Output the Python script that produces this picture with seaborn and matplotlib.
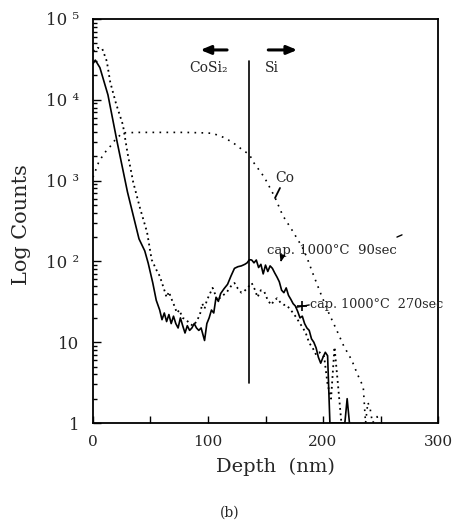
import numpy as np
import pandas as pd
import matplotlib
matplotlib.use("Agg")
import matplotlib.pyplot as plt
from matplotlib.ticker import FixedLocator, FixedFormatter, LogLocator, NullFormatter
import seaborn as sns

# Depth profiles (depth in nm, counts)
depth_90 = [0, 2, 6, 13, 21, 30, 40, 45, 48, 52, 55, 58, 60, 62, 64, 66, 68, 70, 72, 74,
            76, 78, 80, 82, 84, 86, 88, 90, 92, 94, 97, 99, 101, 103, 105, 107, 109, 111,
            114, 117, 120, 123, 126, 129, 132, 134, 136, 138, 140, 142, 144, 146, 148,
            150, 152, 154, 156, 158, 160, 162, 164, 166, 168, 170, 172, 174, 176, 178,
            180, 182, 184, 186, 188, 190, 192, 194, 196, 198, 200, 202, 204, 206, 219,
            221, 223]
counts_90 = [28000, 31000, 25000, 11500, 3000, 720, 190, 135, 95, 54, 33, 25, 19, 23, 18,
             22, 17, 21, 17, 15, 20, 16, 13, 16, 14, 15, 17, 15, 14, 15, 10.5, 17, 20, 25,
             23, 36, 32, 40, 46, 52, 66, 82, 86, 88, 92, 96, 105, 104, 96, 104, 84, 92, 70,
             90, 75, 88, 82, 72, 64, 56, 44, 41, 47, 38, 34, 30, 28, 24, 20, 21, 17, 15, 14,
             11, 10, 8.5, 6.5, 5.5, 6.5, 7.5, 6.8, 1, 1, 2.0, 1]

depth_270 = [0, 4, 8, 12, 15, 20, 26, 30, 35, 41, 47, 51, 54, 56, 58, 61, 64, 66, 68, 70,
             73, 75, 78, 81, 84, 87, 90, 93, 95, 97, 99, 101, 104, 106, 108, 111, 113, 116,
             119, 121, 123, 126, 129, 131, 133, 136, 138, 141, 143, 146, 149, 152, 155,
             157, 160, 163, 166, 168, 171, 174, 177, 180, 182, 185, 188, 191, 194, 197,
             201, 204, 207, 210, 213, 216]
counts_270 = [40000, 44000, 43000, 30000, 16500, 9000, 4900, 2200, 950, 450, 230, 105, 85,
              74, 66, 49, 36, 42, 35, 30, 23, 25, 20, 19, 17, 16, 18, 22, 30, 26, 33, 38,
              47, 40, 33, 36, 38, 41, 47, 52, 54, 46, 41, 42, 45, 50, 54, 44, 36, 44, 42,
              33, 29, 32, 35, 31, 29, 29, 26, 23, 20, 17, 15.5, 13, 9.8, 8.5, 7, 7.5, 6.6,
              3.0, 2.0, 8.7, 3.0, 1.0]

depth_co = [0, 5, 10, 15, 20, 26, 40, 60, 80, 95, 104, 113, 121, 130, 136, 140, 149, 158,
            165, 173, 182, 186, 191, 198, 205, 212, 218, 225, 230, 235, 237, 239, 241, 243,
            247, 249]
counts_co = [1100, 1700, 2200, 2650, 3300, 3900, 3950, 3950, 3950, 3900, 3850, 3450, 3000,
             2400, 2100, 1650, 1100, 630, 370, 245, 150, 112, 72, 40, 23, 14, 9, 6.0, 4.0,
             2.8, 1.0, 1.8, 1.5, 1.0, 1.2, 1.0]

interface_depth = 136
x_ticks = [0, 100, 200, 300]
x_minor = [50, 150, 250]
y_ticks = [1, 10, 100, 1000, 10000, 100000]
y_labels = ["1", "10", "10 \u00b2", "10 \u00b3", "10 \u2074", "10 \u2075"]

sns.set_style("ticks")
plt.rcParams["font.family"] = ["DejaVu Serif", "DejaVu Sans"]

fig = plt.figure(figsize=(4.56, 5.27), dpi=100)
ax = fig.add_axes([93 / 456, 1 - 423 / 527, 345 / 456, 404 / 527])

df90 = pd.DataFrame({"depth": depth_90, "counts": counts_90})
df270 = pd.DataFrame({"depth": depth_270, "counts": counts_270})
dfco = pd.DataFrame({"depth": depth_co, "counts": counts_co})

sns.lineplot(data=df90, x="depth", y="counts", ax=ax, color="black", lw=1.2,
             estimator=None, sort=False)
l270 = sns.lineplot(data=df270, x="depth", y="counts", ax=ax, color="black", lw=1.3,
                    estimator=None, sort=False).lines[-1]
l270.set_dashes((1, 2.0))
lco = sns.lineplot(data=dfco, x="depth", y="counts", ax=ax, color="black", lw=1.2,
                   estimator=None, sort=False).lines[-1]
lco.set_dashes((1, 3.2))

# CoSi2 / Si interface
ax.plot([interface_depth, interface_depth], [3.1, 30000], color="black", lw=1.2)

ax.set_yscale("log")
ax.set_xlim(0, 300)
ax.set_ylim(1, 1e5)

ax.xaxis.set_major_locator(FixedLocator(x_ticks))
ax.xaxis.set_minor_locator(FixedLocator(x_minor))
ax.yaxis.set_major_locator(FixedLocator(y_ticks))
ax.yaxis.set_major_formatter(FixedFormatter(y_labels))
ax.yaxis.set_minor_locator(LogLocator(base=10, subs=np.arange(2, 10)))
ax.yaxis.set_minor_formatter(NullFormatter())
ax.set_xticklabels([str(v) for v in x_ticks])

ax.tick_params(axis="both", which="both", direction="in", color="black",
               top=False, right=False, width=1.0)
ax.tick_params(axis="x", which="major", length=5, pad=9, labelsize=11)
ax.tick_params(axis="x", which="minor", length=5)
ax.tick_params(axis="y", which="major", length=6, pad=10, labelsize=12)
ax.tick_params(axis="y", which="minor", length=3)
for s in ax.spines.values():
    s.set_linewidth(1.3)
    s.set_color("black")

ax.set_xlabel("Depth  (nm)", fontsize=14)
ax.xaxis.set_label_coords(0.53, -0.085)
ax.set_ylabel("Log Counts", fontsize=15)
ax.yaxis.set_label_coords(-0.18, 0.49)

# region arrows and labels
arrow_kw = dict(arrowstyle="-|>,head_length=0.6,head_width=0.25", color="black", lw=2.2)
ax.annotate("", xy=(91, 41400), xytext=(119, 41400), arrowprops=arrow_kw)
ax.annotate("", xy=(180, 41400), xytext=(150, 41400), arrowprops=arrow_kw)
ax.text(100.4, 24700, "CoSi\u2082", fontsize=10, ha="center", va="center")
ax.text(155.5, 24700, "Si", fontsize=10, ha="center", va="center")

# curve labels
ax.text(158.3, 1070, "Co", fontsize=10, ha="left", va="center")
ax.plot([158.3, 162.6], [610, 810], color="black", lw=1.3)
ax.text(151.3, 138, "cap. 1000\u00b0C  90sec", fontsize=9.5, ha="left", va="center")
ax.plot([264.3, 268.7], [200, 213], color="black", lw=1.0)
ax.annotate("", xy=(162.6, 90), xytext=(164.3, 113),
            arrowprops=dict(arrowstyle="-|>,head_length=0.4,head_width=0.15",
                            color="black", lw=1.0))
ax.text(188.7, 28.9, "cap. 1000\u00b0C  270sec", fontsize=9.2, ha="left", va="center",
        clip_on=False)
ax.plot([188.0, 176.5], [28.9, 27.0], color="black", lw=1.0)
ax.plot([181.5], [28.0], marker="+", color="black", ms=7, mew=1.2)

fig.text(230 / 456, 1 - 513 / 527, "(b)", fontsize=10, ha="center", va="center")

fig.savefig("out.png", dpi=100, facecolor="white")
